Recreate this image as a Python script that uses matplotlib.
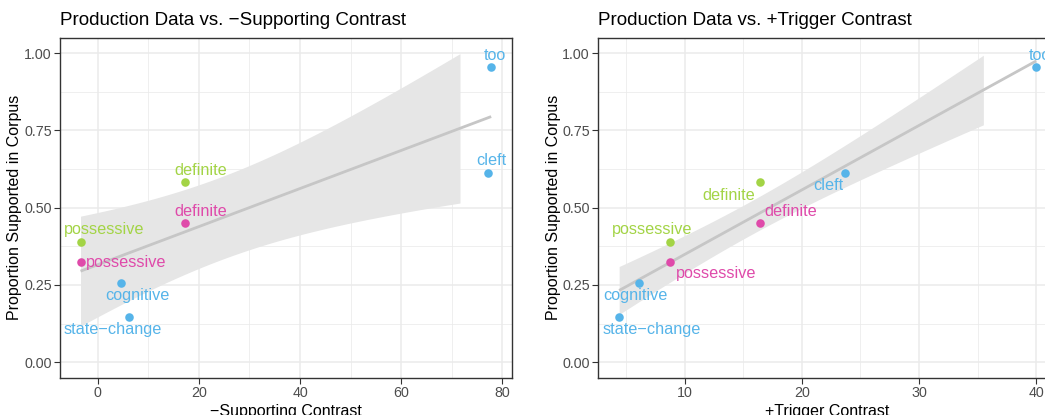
import matplotlib
matplotlib.use("Agg")
import matplotlib.pyplot as plt
from matplotlib.ticker import MultipleLocator
import numpy as np

plt.rcParams['font.family'] = ['Liberation Sans', 'DejaVu Sans']

# Proportion of contexts supported in the corpus, one entry per trigger
labels = ['too', 'cleft', 'definite', 'definite', 'possessive', 'possessive', 'cognitive', 'state\u2212change']
groups = ['blue', 'blue', 'green', 'pink', 'green', 'pink', 'blue', 'blue']
proportion = [0.956, 0.613, 0.582, 0.450, 0.390, 0.323, 0.257, 0.147]

# Contrast scores for the two predictors
supporting_contrast = [77.8, 77.1, 17.3, 17.3, -3.3, -3.4, 4.7, 6.2]
trigger_contrast = [40.0, 23.7, 16.4, 16.4, 8.7, 8.7, 6.1, 4.4]

palette = {'blue': '#56B4E9', 'green': '#A3D446', 'pink': '#DF4AAA'}

# label offsets in pixels (dx, dy) for each point
offsets_left = [(4, 11), (4, 12), (16, 12), (16, 12), (23, 12), (46, 0), (16, -13), (-16, -13)]
offsets_right = [(4, 11), (-17, -13), (-31, -13), (31, 12), (-17, 12), (47, -11), (-4, -13), (33, -13)]

T975_DF6 = 2.446912  # t quantile for a 95% band with 8 points


def draw_panel(ax, x, title, xlabel, offsets, xticks_step, width_px):
    x = np.asarray(x, float)
    y = np.asarray(proportion, float)

    # linear fit with 95% confidence band (as geom_smooth(method = "lm"))
    n = len(x)
    slope, intercept = np.polyfit(x, y, 1)
    resid = y - (intercept + slope * x)
    s = np.sqrt(np.sum(resid ** 2) / (n - 2))
    xs = np.linspace(x.min(), x.max(), 80)
    fit = intercept + slope * xs
    se = s * np.sqrt(1.0 / n + (xs - x.mean()) ** 2 / np.sum((x - x.mean()) ** 2))
    lo, hi = fit - T975_DF6 * se, fit + T975_DF6 * se
    # ribbon rows outside the y limits are dropped
    keep = (hi <= 1.0) & (lo >= 0.0)
    ax.fill_between(xs[keep], lo[keep], hi[keep], color='#E6E6E6', lw=0, zorder=2)
    ax.plot(xs, fit, color='#C6C6C6', lw=2.0, zorder=3, solid_capstyle='butt')

    for xi, yi, lab, g, (dx, dy) in zip(x, y, labels, groups, offsets):
        c = palette[g]
        ax.scatter(xi, yi, s=38, color=c, zorder=4, linewidths=0)
        ax.annotate(lab, (xi, yi), xytext=(dx, dy), textcoords='offset pixels',
                    ha='center', va='center', color=c, fontsize=11.7, zorder=5)

    rng = x.max() - x.min()
    ax.set_xlim(x.min() - 0.05 * rng, x.max() + 0.05 * rng)
    ax.set_ylim(-0.05, 1.05)
    ax.xaxis.set_major_locator(MultipleLocator(xticks_step))
    ax.xaxis.set_minor_locator(MultipleLocator(xticks_step / 2))
    ax.yaxis.set_major_locator(MultipleLocator(0.25))
    ax.yaxis.set_minor_locator(MultipleLocator(0.125))
    ax.yaxis.set_major_formatter(plt.FuncFormatter(lambda v, p: f'{v:.2f}'))

    ax.grid(True, which='major', color='#EBEBEB', lw=1.1, zorder=0)
    ax.grid(True, which='minor', color='#EBEBEB', lw=0.55, zorder=0)
    ax.set_axisbelow(True)
    for sp in ax.spines.values():
        sp.set_color('#333333')
        sp.set_linewidth(1.0)
    ax.tick_params(which='major', length=4, width=0.8, color='#333333',
                   labelcolor='#4D4D4D', labelsize=10.3, pad=2)
    ax.tick_params(which='minor', length=0)

    ax.set_title(title, loc='left', fontsize=13.5, pad=9)
    ax.set_xlabel(xlabel, fontsize=11.5, labelpad=3)
    ax.set_ylabel('Proportion Supported in Corpus', fontsize=11.5, va='center')
    ax.yaxis.set_label_coords(-45.0 / width_px, 0.5)


fig = plt.figure(figsize=(10.45, 4.15), dpi=100)
W, H = 1045.0, 415.0
ax1 = fig.add_axes([60 / W, (H - 377.7) / H, 451.7 / W, 340 / H])
ax2 = fig.add_axes([598.3 / W, (H - 377.7) / H, 458.7 / W, 340 / H])

draw_panel(ax1, supporting_contrast, 'Production Data vs. \u2212Supporting Contrast',
           '\u2212Supporting Contrast', offsets_left, 20, 451.7)
draw_panel(ax2, trigger_contrast, 'Production Data vs. +Trigger Contrast',
           '+Trigger Contrast', offsets_right, 10, 458.7)

fig.savefig('out.png', dpi=100)
